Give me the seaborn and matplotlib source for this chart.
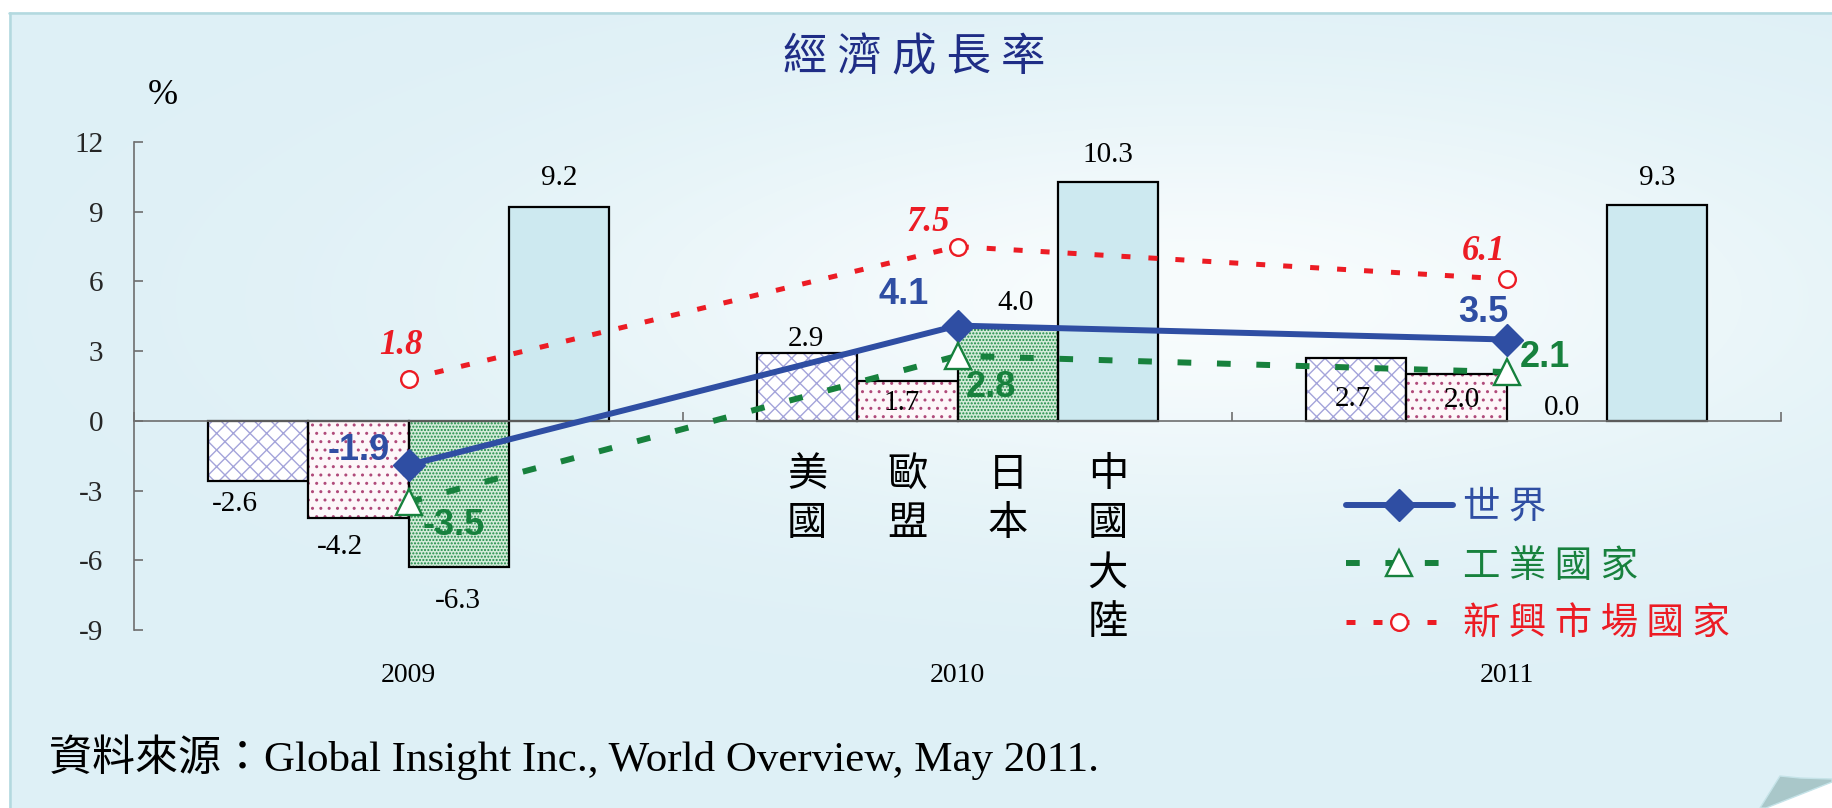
import numpy as np
import pandas as pd
import matplotlib.pyplot as plt
import matplotlib.patches as mpatches
import seaborn as sns

# chart data
years = ['2009', '2010', '2011']
countries = ['美國', '歐盟', '日本', '中國大陸']
us = [-2.6, 2.9, 2.7]
eu = [-4.2, 1.7, 2.0]
japan = [-6.3, 4.0, 0.0]
china = [9.2, 10.3, 9.3]
world = [-1.9, 4.1, 3.5]
industrial = [-3.5, 2.8, 2.1]
emerging = [1.8, 7.5, 6.1]
yticks = [-9, -6, -3, 0, 3, 6, 9, 12]
series_names = ['世 界', '工 業 國 家', '新 興 市 場 國 家']
title = '經 濟 成 長 率'
source = '資料來源：Global Insight Inc., World Overview, May 2011.'

# label offsets in pixels (dx, dy), per year
bar_label_off = {
    '美國': [(-23, -23), (-1, 14), (-3, -41)],
    '歐盟': [(-18, -29), (-6, -22), (5, -26)],
    '日本': [(-1, -34), (8, 25), (5, 13)],
    '中國大陸': [(0, 29), (0, 27), (0, 27)],
}
world_off = [(-50, 15), (-54, 31), (-23, 27)]
ind_off = [(45, -23), (33, -32), (38, 15)]
emg_off = [(-8, 34), (-29, 24), (-23, 28)]

sns.set_style('white')
plt.rcParams['font.family'] = ['Liberation Serif', 'Noto Sans CJK TC']
plt.rcParams['axes.unicode_minus'] = False
plt.rcParams['hatch.linewidth'] = 1.0

W, H = 1832, 808
fig = plt.figure(figsize=(W / 100, H / 100), dpi=100)
fig.patch.set_facecolor('white')

# background panel with soft light area
bg = fig.add_axes([0, 0, 1, 1], zorder=0)
bg.set_xlim(0, W)
bg.set_ylim(H, 0)
bg.axis('off')
yy, xx = np.mgrid[0:H, 0:W]
g = np.exp(-(((xx - 1200) / 650.0) ** 2 + ((yy - 300) / 210.0) ** 2))
base = np.array([222, 240, 246]) / 255
light = np.array([248, 252, 253]) / 255
img = base[None, None, :] * (1 - g[..., None]) + light[None, None, :] * g[..., None]
img[:12, :, :] = 1.0
img[:, :9, :] = 1.0
bg.imshow(img, extent=(0, W, H, 0), aspect='auto', interpolation='bilinear')
bg.plot([9, W], [13, 13], color='#b3d9df', lw=1.8)
bg.plot([10, 10], [13, H], color='#b3d9df', lw=1.8)
bg.add_patch(mpatches.Polygon([(1832, 782), (1832, 808), (1766, 808)], closed=True,
                              fc='white', ec='none'))
bg.add_patch(mpatches.Polygon([(1780, 776), (1800, 778), (1832, 779), (1832, 782),
                               (1766, 808), (1760, 808)], closed=True,
                              fc='#a9c7c9', ec='#c5e3e8', lw=1))

ax = fig.add_axes([134 / W, (H - 630) / H, (1781 - 134) / W, (630 - 142) / H], zorder=1)
ax.set_facecolor('none')

rows = []
for c, vals in zip(countries, [us, eu, japan, china]):
    for y, v in zip(years, vals):
        rows.append({'year': y, 'country': c, 'value': v})
df = pd.DataFrame(rows)

face_colors = ['#ffffff', '#fdf7f9', '#d3ebd9', '#cde9f0']
hatch_colors = ['#a4a4da', '#b04a7a', '#1c8a45', '#cde9f0']
hatches = ['xx', '..', '.....', '']

width = 0.73
sns.barplot(data=df, x='year', y='value', hue='country', order=years, hue_order=countries,
            palette=face_colors, saturation=1, width=width, gap=0, errorbar=None,
            legend=False, ax=ax, zorder=2)

bw = width / len(countries)
for p in list(ax.patches):
    cx = p.get_x() + p.get_width() / 2
    gi = int(round(cx))
    k = int(round((cx - gi) / bw + (len(countries) - 1) / 2))
    p.set_facecolor(face_colors[k])
    p.set_hatch(hatches[k])
    p.set_edgecolor(hatch_colors[k])
    p.set_linewidth(0)
    v = p.get_height()
    if v != 0:
        ax.add_patch(mpatches.Rectangle((p.get_x(), p.get_y()), p.get_width(), v,
                                        fill=False, ec='black', lw=1.6, zorder=2.5))
    dx, dy = bar_label_off[countries[k]][gi]
    ax.annotate(f'{v:.1f}', xy=(cx, v), xytext=(dx, dy), textcoords='offset pixels',
                ha='center', va='center', fontsize=21, color='black', zorder=3)
    if gi == 1:
        ax.annotate('\n'.join(countries[k]), xy=(cx, 0), xytext=(0, -33),
                    textcoords='offset pixels', ha='center', va='top', fontsize=29,
                    family='Noto Sans CJK TC', linespacing=1.26, color='black')

blue = '#2f4ea3'
green = '#17813d'
red = '#ec1c24'
xs = np.arange(len(years))
l_world, = ax.plot(xs, world, color=blue, lw=4.3, marker='D', ms=16.5, mfc=blue, mec=blue,
                   zorder=4)
l_ind, = ax.plot(xs, industrial, color=green, lw=4.3, ls=(0, (2.3, 4.3)), marker='^', ms=19,
                 mfc='white', mec=green, mew=1.7, zorder=4)
l_emg, = ax.plot(xs, emerging, color=red, lw=3.6, ls=(0, (1.8, 3.6)), marker='o', ms=12,
                 mfc='white', mec=red, mew=1.7, zorder=4)

for i in range(len(years)):
    ax.annotate(f'{world[i]:.1f}', xy=(i, world[i]), xytext=world_off[i],
                textcoords='offset pixels', ha='center', va='center', fontsize=26,
                family='Liberation Sans', weight='bold', color=blue, zorder=5)
    ax.annotate(f'{industrial[i]:.1f}', xy=(i, industrial[i]), xytext=ind_off[i],
                textcoords='offset pixels', ha='center', va='center', fontsize=26,
                family='Liberation Sans', weight='bold', color=green, zorder=5)
    ax.annotate(f'{emerging[i]:.1f}', xy=(i, emerging[i]), xytext=emg_off[i],
                textcoords='offset pixels', ha='center', va='center', fontsize=25,
                style='italic', weight='bold', color=red, zorder=5)
    ax.annotate(years[i], xy=(i, yticks[0]), xytext=(0, -45), textcoords='offset pixels',
                ha='center', va='center', fontsize=20, color='black')

ax.set_xlim(-0.5, len(years) - 0.5)
ax.set_ylim(yticks[0], yticks[-1])
ax.set_yticks(yticks)
ax.set_yticklabels([str(t) for t in yticks], fontsize=21)
ax.set_xticks(np.arange(len(years) + 1) - 0.5)
ax.set_xticklabels([])
ax.set_xlabel('')
ax.set_ylabel('')
ax.tick_params(axis='y', direction='in', length=6.5, width=1.2, color='#6e6e6e', pad=22, left=True)
ax.tick_params(axis='x', direction='in', length=6.5, width=1.2, color='#6e6e6e', bottom=True)
for s in ['top', 'right']:
    ax.spines[s].set_visible(False)
for s in ['left', 'bottom']:
    ax.spines[s].set_color('#6e6e6e')
    ax.spines[s].set_linewidth(1.2)
ax.spines['bottom'].set_position(('data', 0))

leg = ax.legend([l_world, l_ind, l_emg], series_names, loc='upper left',
                bbox_to_anchor=(1346 / W, 1 - 488 / H), bbox_transform=fig.transFigure,
                frameon=False, handlelength=2.85, handletextpad=0.27, labelspacing=0.52,
                borderpad=0, borderaxespad=0, prop={'family': 'Noto Sans CJK TC', 'size': 27})
for t, c in zip(leg.get_texts(), [blue, green, red]):
    t.set_color(c)

fig.text(914 / W, 1 - 57 / H, title, ha='center', va='center', fontsize=32,
         family='Noto Sans CJK TC', weight='medium', color='#1f2d86')
fig.text(163 / W, 1 - 95 / H, '%', ha='center', va='center', fontsize=26, color='black')
fig.text(49 / W, 1 - 757 / H, source, ha='left', va='center', fontsize=31, color='black')

fig.savefig('out.png', dpi=100)
